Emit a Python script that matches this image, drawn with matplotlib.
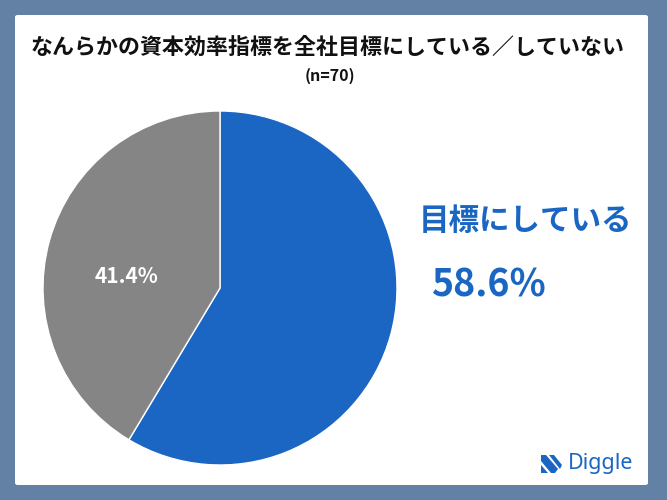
import numpy as np
import matplotlib.pyplot as plt
from matplotlib.patches import FancyBboxPatch, Polygon

plt.rcParams['font.family'] = ['Noto Sans CJK JP', 'DejaVu Sans']

# データ
labels = ["目標にしている", "目標にしていない"]
values = [58.6, 41.4]
colors = ["#1a66c2", "#858585"]
title = "なんらかの資本効率指標を全社目標にしている／していない"
subtitle = "(n=70)"

W, H = 667, 500
fig = plt.figure(figsize=(W / 100, H / 100), dpi=100)
fig.patch.set_facecolor("#6380a5")

# 白いパネル
panel = FancyBboxPatch((15 / W, 15 / H), 633 / W, 470 / H,
                       boxstyle="round,pad=0,rounding_size=0.004",
                       transform=fig.transFigure, facecolor="white",
                       edgecolor="none", zorder=-5)
fig.patches.append(panel)

fig.text(328 / W, 1 - 47 / H, title, ha="center", va="center",
         fontsize=15.8, fontweight="bold", color="#111111")
fig.text(330 / W, 1 - 76 / H, subtitle, ha="center", va="center",
         fontsize=11.5, fontweight="bold", color="#111111")

# 円グラフ
cx, cy, r = 220, 288, 177
ax = fig.add_axes([(cx - r) / W, (H - cy - r) / H, 2 * r / W, 2 * r / H])
ax.patch.set_visible(False)
wedges, _ = ax.pie(values, colors=colors, startangle=90, counterclock=False,
                   radius=1, wedgeprops=dict(edgecolor="white", linewidth=1))
ax.set_xlim(-1, 1)
ax.set_ylim(-1, 1)
ax.set_aspect("equal")

w = wedges[1]
ang = np.deg2rad((w.theta1 + w.theta2) / 2)
ax.text(0.55 * np.cos(ang), 0.24 * np.sin(ang), f"{values[1]}%",
        ha="center", va="center", fontsize=15, fontweight="bold", color="white")

# 右側のラベル
fig.text(525 / W, 1 - 221 / H, labels[0], ha="center", va="center",
         fontsize=22, fontweight="bold", color=colors[0])
fig.text(488 / W, 1 - 285 / H, f"{values[0]}%", ha="center", va="center",
         fontsize=27, fontweight="bold", color=colors[0])

# ロゴ
logo_blue = "#1a66c2"
stripes = [
    [(541, 465), (541, 473), (548, 473)],
    [(541, 455), (546, 455), (558, 469), (555, 473), (551, 473), (541, 461)],
    [(549, 455), (554, 455), (562, 465), (560, 469)],
]
for s in stripes:
    fig.patches.append(Polygon([(x / W, 1 - y / H) for x, y in s], closed=True,
                               transform=fig.transFigure, facecolor=logo_blue,
                               edgecolor="none"))
fig.text(601 / W, 1 - 463 / H, "Diggle", ha="center", va="center",
         fontsize=15.5, fontweight="semibold", color=logo_blue,
         family=["Noto Sans", "DejaVu Sans"])

fig.savefig("out.png", dpi=100, facecolor=fig.get_facecolor())
